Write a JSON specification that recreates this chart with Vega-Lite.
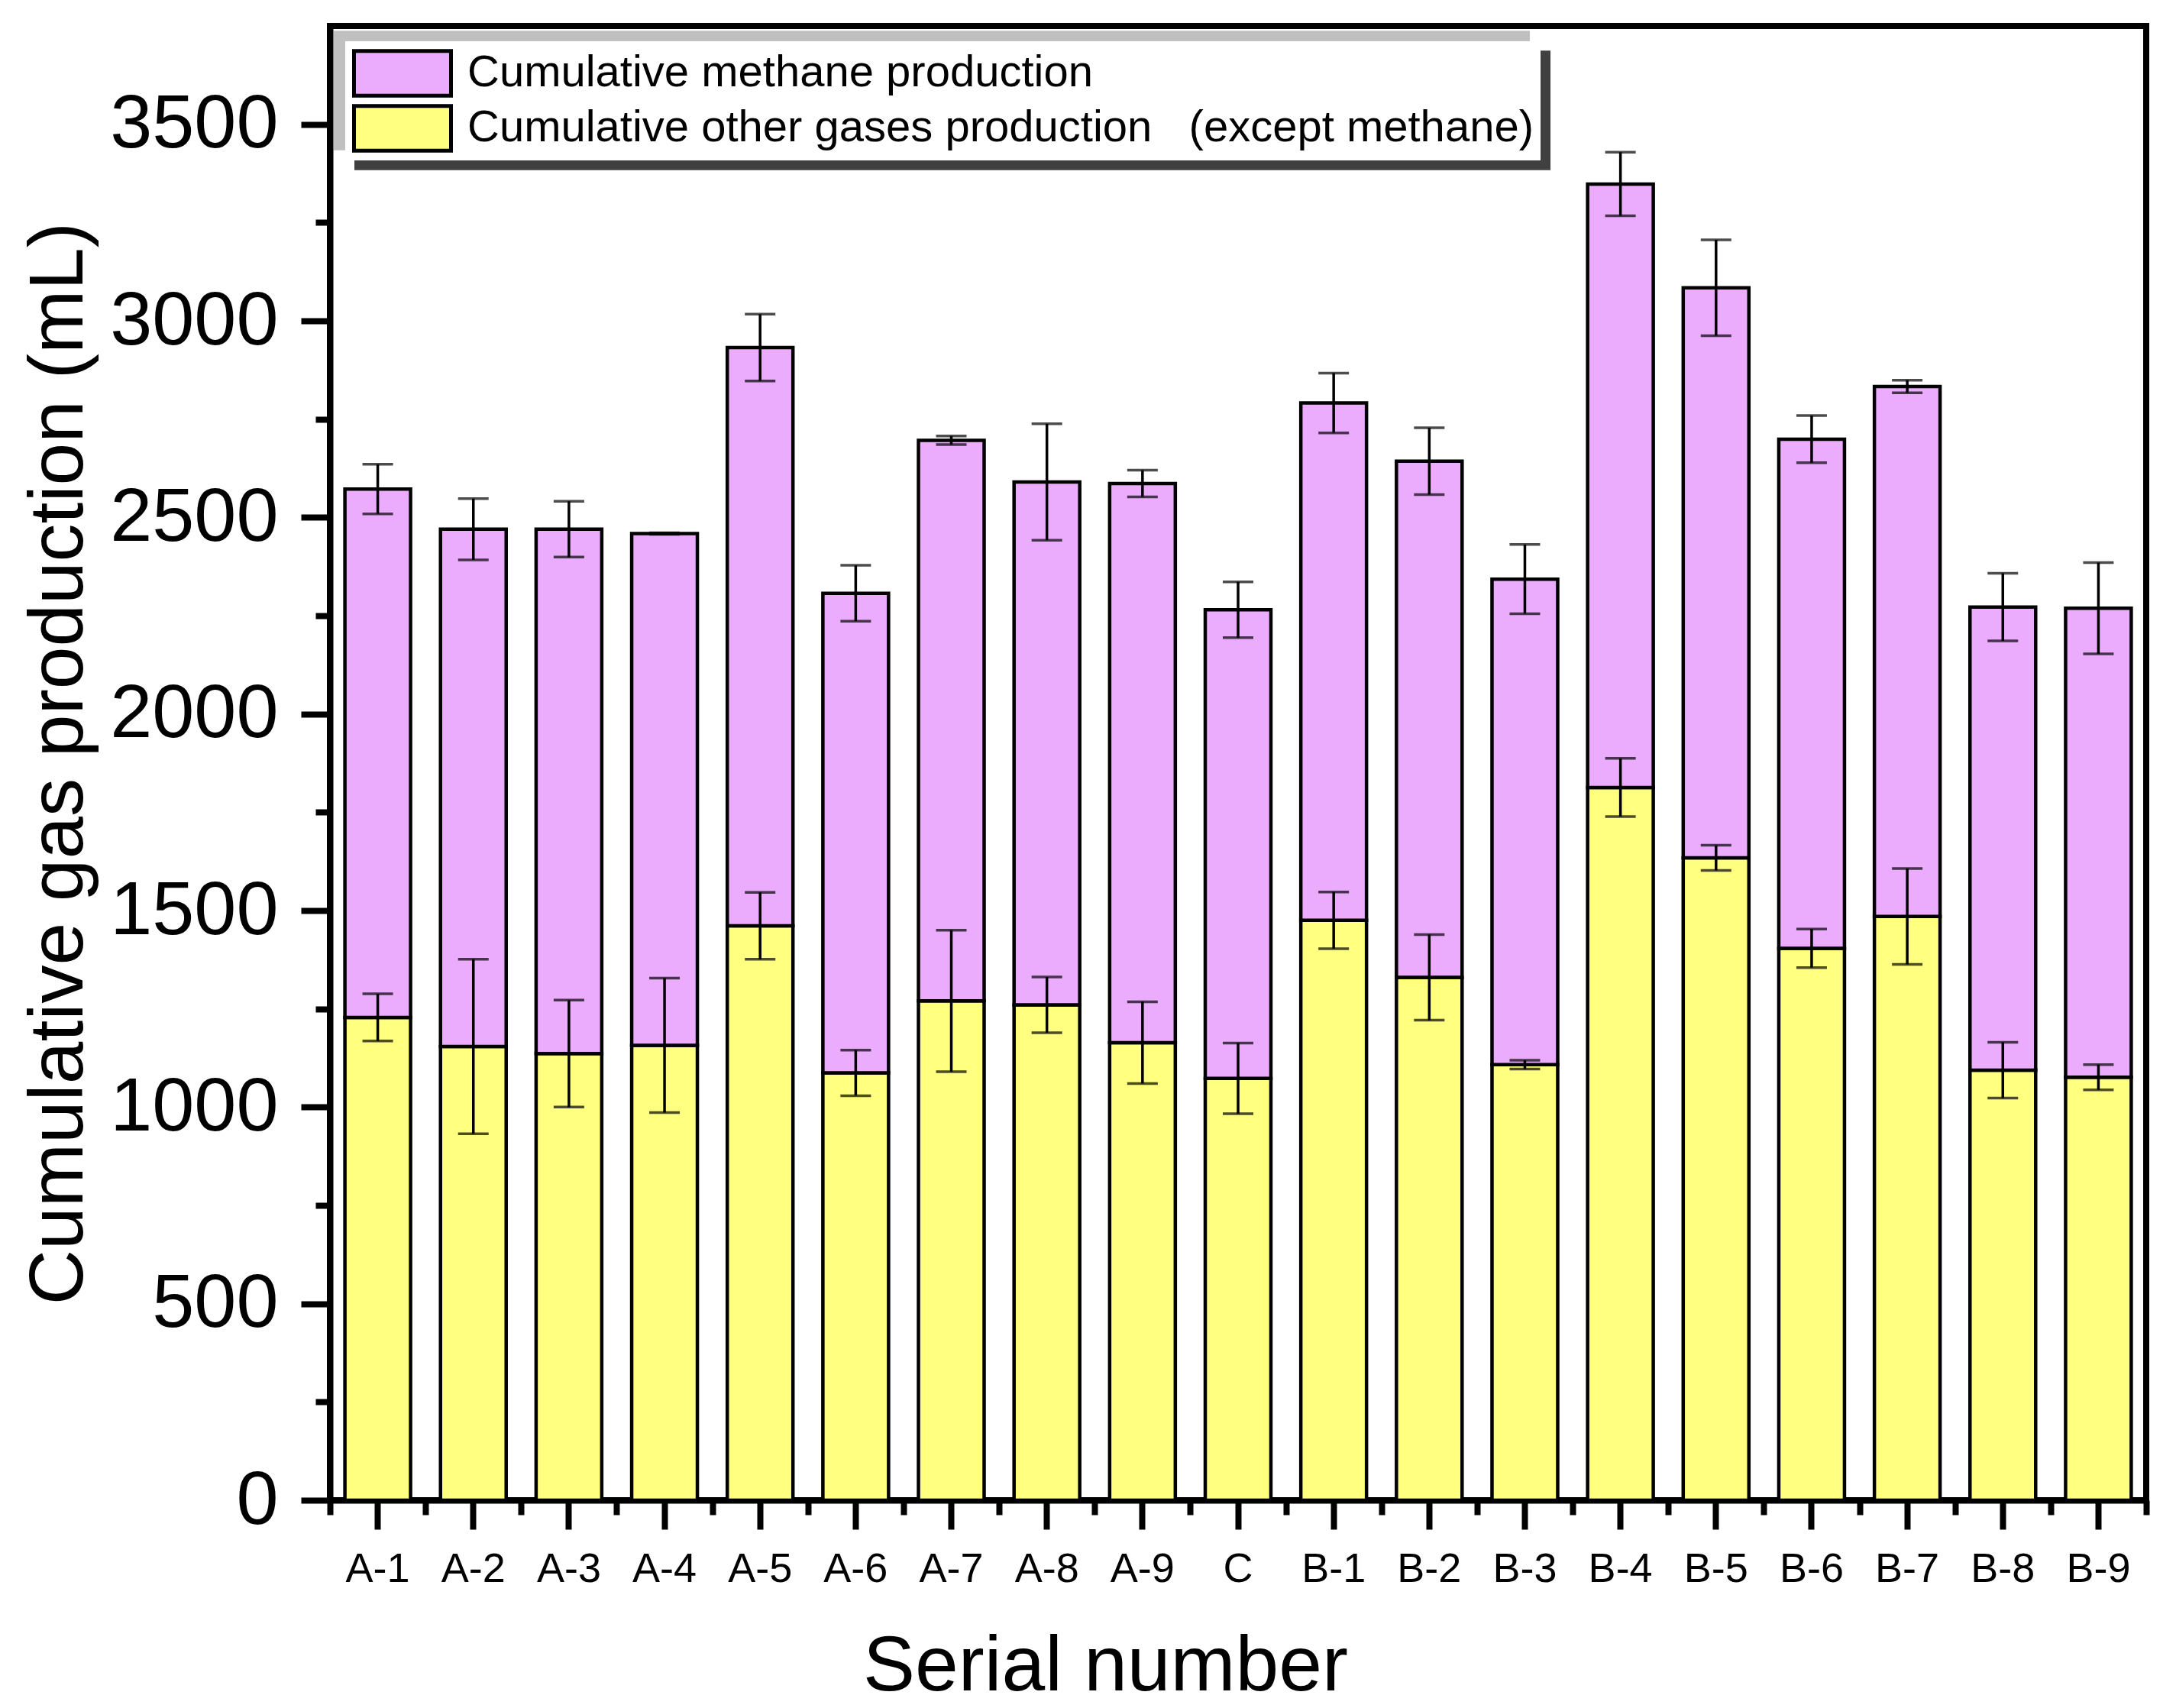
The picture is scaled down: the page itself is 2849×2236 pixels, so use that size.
{
  "$schema": "https://vega.github.io/schema/vega-lite/v6.json",
  "autosize": "none",
  "width": 2378,
  "height": 1930,
  "padding": {"left": 432, "top": 34, "right": 39, "bottom": 272},
  "background": "white",
  "datasets": {
    "bars": [
      {"s": "A-1", "gas": "other", "low": 0, "high": 1228, "err": 60},
      {"s": "A-1", "gas": "methane", "low": 1228, "high": 2572, "err": 63},
      {"s": "A-2", "gas": "other", "low": 0, "high": 1154, "err": 222},
      {"s": "A-2", "gas": "methane", "low": 1154, "high": 2470, "err": 78},
      {"s": "A-3", "gas": "other", "low": 0, "high": 1136, "err": 136},
      {"s": "A-3", "gas": "methane", "low": 1136, "high": 2470, "err": 71},
      {"s": "A-4", "gas": "other", "low": 0, "high": 1157, "err": 171},
      {"s": "A-4", "gas": "methane", "low": 1157, "high": 2459, "err": 2},
      {"s": "A-5", "gas": "other", "low": 0, "high": 1461, "err": 85},
      {"s": "A-5", "gas": "methane", "low": 1461, "high": 2932, "err": 85},
      {"s": "A-6", "gas": "other", "low": 0, "high": 1087, "err": 58},
      {"s": "A-6", "gas": "methane", "low": 1087, "high": 2307, "err": 71},
      {"s": "A-7", "gas": "other", "low": 0, "high": 1270, "err": 180},
      {"s": "A-7", "gas": "methane", "low": 1270, "high": 2696, "err": 11},
      {"s": "A-8", "gas": "other", "low": 0, "high": 1260, "err": 71},
      {"s": "A-8", "gas": "methane", "low": 1260, "high": 2590, "err": 148},
      {"s": "A-9", "gas": "other", "low": 0, "high": 1164, "err": 104},
      {"s": "A-9", "gas": "methane", "low": 1164, "high": 2586, "err": 34},
      {"s": "C", "gas": "other", "low": 0, "high": 1073, "err": 90},
      {"s": "C", "gas": "methane", "low": 1073, "high": 2265, "err": 71},
      {"s": "B-1", "gas": "other", "low": 0, "high": 1475, "err": 72},
      {"s": "B-1", "gas": "methane", "low": 1475, "high": 2791, "err": 76},
      {"s": "B-2", "gas": "other", "low": 0, "high": 1330, "err": 109},
      {"s": "B-2", "gas": "methane", "low": 1330, "high": 2643, "err": 85},
      {"s": "B-3", "gas": "other", "low": 0, "high": 1108, "err": 11},
      {"s": "B-3", "gas": "methane", "low": 1108, "high": 2343, "err": 88},
      {"s": "B-4", "gas": "other", "low": 0, "high": 1813, "err": 74},
      {"s": "B-4", "gas": "methane", "low": 1813, "high": 3348, "err": 81},
      {"s": "B-5", "gas": "other", "low": 0, "high": 1634, "err": 32},
      {"s": "B-5", "gas": "methane", "low": 1634, "high": 3084, "err": 122},
      {"s": "B-6", "gas": "other", "low": 0, "high": 1404, "err": 49},
      {"s": "B-6", "gas": "methane", "low": 1404, "high": 2699, "err": 60},
      {"s": "B-7", "gas": "other", "low": 0, "high": 1485, "err": 122},
      {"s": "B-7", "gas": "methane", "low": 1485, "high": 2833, "err": 16},
      {"s": "B-8", "gas": "other", "low": 0, "high": 1094, "err": 71},
      {"s": "B-8", "gas": "methane", "low": 1094, "high": 2272, "err": 86},
      {"s": "B-9", "gas": "other", "low": 0, "high": 1076, "err": 32},
      {"s": "B-9", "gas": "methane", "low": 1076, "high": 2269, "err": 116}
    ],
    "box": [
      {"light": "bevel", "dark": "shadow"}
    ]
  },
  "resolve": {"axis": {"x": "independent", "y": "independent"}},
  "layer": [
    {
      "data": {"name": "bars"},
      "mark": {"type": "bar", "stroke": "black", "strokeWidth": 4.5, "width": {"band": 0.687}},
      "encoding": {
        "x": {
          "field": "s", "type": "nominal", "sort": null,
          "scale": {"paddingInner": 0, "paddingOuter": 0},
          "axis": {
            "orient": "bottom", "title": "Serial number", "labelAngle": 0,
            "tickSize": 38, "labelPadding": 25, "labelFontSize": 54,
            "titleFontSize": 102, "titlePadding": 50, "titleX": 1015
          }
        },
        "y": {
          "field": "low", "type": "quantitative",
          "scale": {"domain": [0, 3750], "nice": false},
          "axis": {
            "orient": "left", "title": "Cumulative gas production (mL)",
            "values": [0, 500, 1000, 1500, 2000, 2500, 3000, 3500], "format": "d",
            "tickSize": 38, "labelPadding": 30, "labelFontSize": 99,
            "titleFontSize": 100, "titleX": -325, "titleY": 965,
            "titleBaseline": "alphabetic", "titleAngle": -90
          }
        },
        "y2": {"field": "high"},
        "fill": {
          "field": "gas", "type": "nominal",
          "scale": {"domain": ["methane", "other"], "range": ["#EBACFE", "#FFFF80"]},
          "legend": {
            "orient": "top-left", "offset": 20, "zindex": 3, "fillColor": "white",
            "labelExpr": "datum.value === 'methane' ? 'Cumulative methane production' : 'Cumulative other gases production \u00a0\u00a0(except methane)'"
          }
        }
      }
    },
    {
      "data": {"name": "bars"},
      "mark": {
        "type": "errorbar",
        "ticks": {"size": 40, "thickness": 3.5, "color": "black"},
        "rule": {"strokeWidth": 3.5, "color": "black"}
      },
      "encoding": {
        "x": {
          "field": "s", "type": "nominal", "sort": null,
          "scale": {"paddingInner": 0, "paddingOuter": 0},
          "axis": {
            "orient": "bottom", "title": null, "labels": false, "domain": false,
            "tickBand": "extent", "tickSize": 19
          }
        },
        "y": {
          "field": "high", "type": "quantitative",
          "scale": {"domain": [0, 3750], "nice": false},
          "axis": {
            "orient": "left", "title": null, "labels": false, "domain": false,
            "values": [250, 750, 1250, 1750, 2250, 2750, 3250],
            "tickSize": 19
          }
        },
        "yError": {"field": "err"}
      }
    },
    {
      "data": {"name": "box"},
      "mark": {"type": "point", "filled": true, "opacity": 0, "color": "#C0C0C0"},
      "encoding": {
        "size": {
          "field": "light", "type": "ordinal",
          "scale": {"range": [2452356, 2452356]},
          "legend": {
            "orient": "none", "legendX": 5, "legendY": 6, "zindex": 1,
            "padding": 0, "labelOffset": 0, "labelExpr": "''",
            "symbolType": "M-1,-0.1H1V0.1H-1Z", "clipHeight": 157,
            "symbolFillColor": "#C0C0C0", "symbolOpacity": 1, "symbolStrokeWidth": 0,
            "symbolStrokeColor": "transparent"
          }
        }
      }
    },
    {
      "data": {"name": "box"},
      "mark": {"type": "point", "filled": true, "opacity": 0, "color": "#404040"},
      "encoding": {
        "shape": {
          "field": "dark", "type": "nominal",
          "scale": {"range": ["M-1,-0.1H1V0.1H-1Z"]},
          "legend": {
            "orient": "none", "legendX": 32, "legendY": 32, "zindex": 2,
            "padding": 0, "labelOffset": 0, "labelExpr": "''",
            "symbolSize": 2452356, "clipHeight": 157,
            "symbolFillColor": "#404040", "symbolOpacity": 1, "symbolStrokeWidth": 0,
            "symbolStrokeColor": "transparent"
          }
        }
      }
    }
  ],
  "config": {
    "font": "Liberation Sans",
    "view": {"stroke": "black", "strokeWidth": 8},
    "axis": {
      "domainColor": "black", "domainWidth": 8, "tickColor": "black", "tickWidth": 8,
      "labelColor": "black", "titleColor": "black", "titleFontWeight": "normal",
      "grid": false, "labelFont": "Liberation Sans", "titleFont": "Liberation Sans",
      "labelLimit": 1000
    },
    "legend": {
      "title": null,
      "symbolType": "M-1,-0.46H1V0.46H-1Z",
      "symbolSize": 16129,
      "symbolStrokeColor": "black",
      "symbolStrokeWidth": 5,
      "clipHeight": 66,
      "rowPadding": 6,
      "padding": 9,
      "labelOffset": 19,
      "labelFontSize": 58,
      "labelFont": "Liberation Sans",
      "labelColor": "black",
      "labelLimit": 5000,
      "strokeColor": null
    }
  }
}
